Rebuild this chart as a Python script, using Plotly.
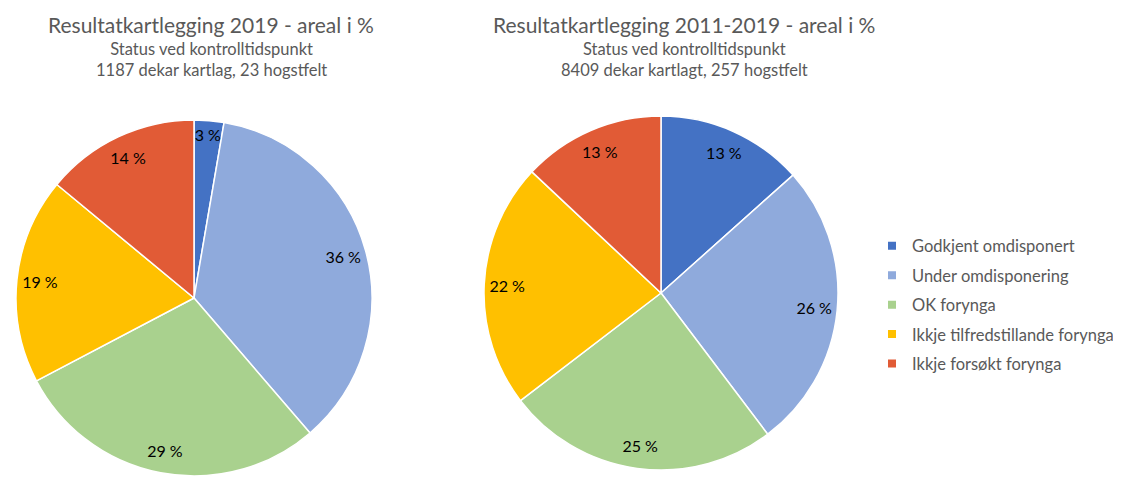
import plotly.graph_objects as go

# categories and colours (shared by both pies)
categories = ["Godkjent omdisponert", "Under omdisponering", "OK forynga",
              "Ikkje tilfredstillande forynga", "Ikkje forsøkt forynga"]
colors = ["#4472C4", "#8FAADC", "#A9D18E", "#FFC000", "#E15B36"]

# area share in %
areal_2019 = [2.7, 36.0, 28.6, 18.7, 14.0]
areal_2011_2019 = [13.4, 26.3, 24.9, 22.4, 13.0]

titles = ["Resultatkartlegging 2019 - areal i %", "Resultatkartlegging 2011-2019 - areal i %"]
subtitles = ["Status ved kontrolltidspunkt<br>1187 dekar kartlag, 23 hogstfelt",
             "Status ved kontrolltidspunkt<br>8409 dekar kartlagt, 257 hogstfelt"]

FONT = "Lato, Open Sans, sans-serif"
GREY = "#595959"

W, H = 1121, 484
OFF = 8  # page body margin shifts the whole figure by 8px


def px_x(p):
    return (p - OFF) / W


def px_y(p):
    return 1 - (p - OFF) / H


def make_pie(values, domain):
    return go.Pie(
        labels=categories, values=values, sort=False,
        direction="clockwise", rotation=0,
        marker=dict(colors=colors, line=dict(color="white", width=1.5)),
        textinfo="none", showlegend=False, hoverinfo="label+percent",
        domain=domain,
    )


def make_labels(values, domain):
    # transparent ring on top, only used to put the % labels near the rim
    return go.Pie(
        labels=categories, values=values, sort=False, hole=0.74,
        direction="clockwise", rotation=0,
        marker=dict(colors=["rgba(0,0,0,0)"] * len(values), line=dict(width=0)),
        text=[f"{round(v)} %" for v in values], textinfo="text",
        textposition="inside", insidetextorientation="horizontal",
        textfont=dict(size=16, color="black", family=FONT),
        showlegend=False, hoverinfo="skip",
        domain=domain,
    )


dom_left = dict(x=[px_x(16), px_x(372)], y=[px_y(476), px_y(120)])
dom_right = dict(x=[px_x(484), px_x(838)], y=[px_y(470), px_y(116)])

fig = go.Figure()
fig.add_trace(make_pie(areal_2019, dom_left))
fig.add_trace(make_pie(areal_2011_2019, dom_right))
fig.add_trace(make_labels(areal_2019, dom_left))
fig.add_trace(make_labels(areal_2011_2019, dom_right))

# legend built from dummy traces so the row spacing can be opened up
for cat, col in zip(categories, colors):
    fig.add_trace(go.Scatter(
        x=[None], y=[None], mode="markers", name=cat, legendgroup=cat,
        marker=dict(symbol="square", size=8, color=col),
    ))

# titles
for xc, t, s in zip([px_x(211), px_x(684)], titles, subtitles):
    fig.add_annotation(x=xc, y=px_y(24), xref="paper", yref="paper",
                       text=t, showarrow=False, xanchor="center", yanchor="middle",
                       font=dict(size=21, color=GREY, family=FONT))
    fig.add_annotation(x=xc, y=px_y(59), xref="paper", yref="paper",
                       text=s, showarrow=False, xanchor="center", yanchor="middle",
                       font=dict(size=16.5, color=GREY, family=FONT))

fig.update_layout(
    width=W, height=H,
    margin=dict(l=0, r=0, t=0, b=0),
    paper_bgcolor="white", plot_bgcolor="white",
    xaxis=dict(visible=False), yaxis=dict(visible=False),
    legend=dict(x=px_x(872), y=px_y(305), xanchor="left", yanchor="middle",
                font=dict(size=16.5, color=GREY, family=FONT),
                tracegroupgap=5, itemwidth=30),
    uniformtext=dict(minsize=16, mode="show"),
    font=dict(family=FONT),
)

fig.write_html("out.html")
